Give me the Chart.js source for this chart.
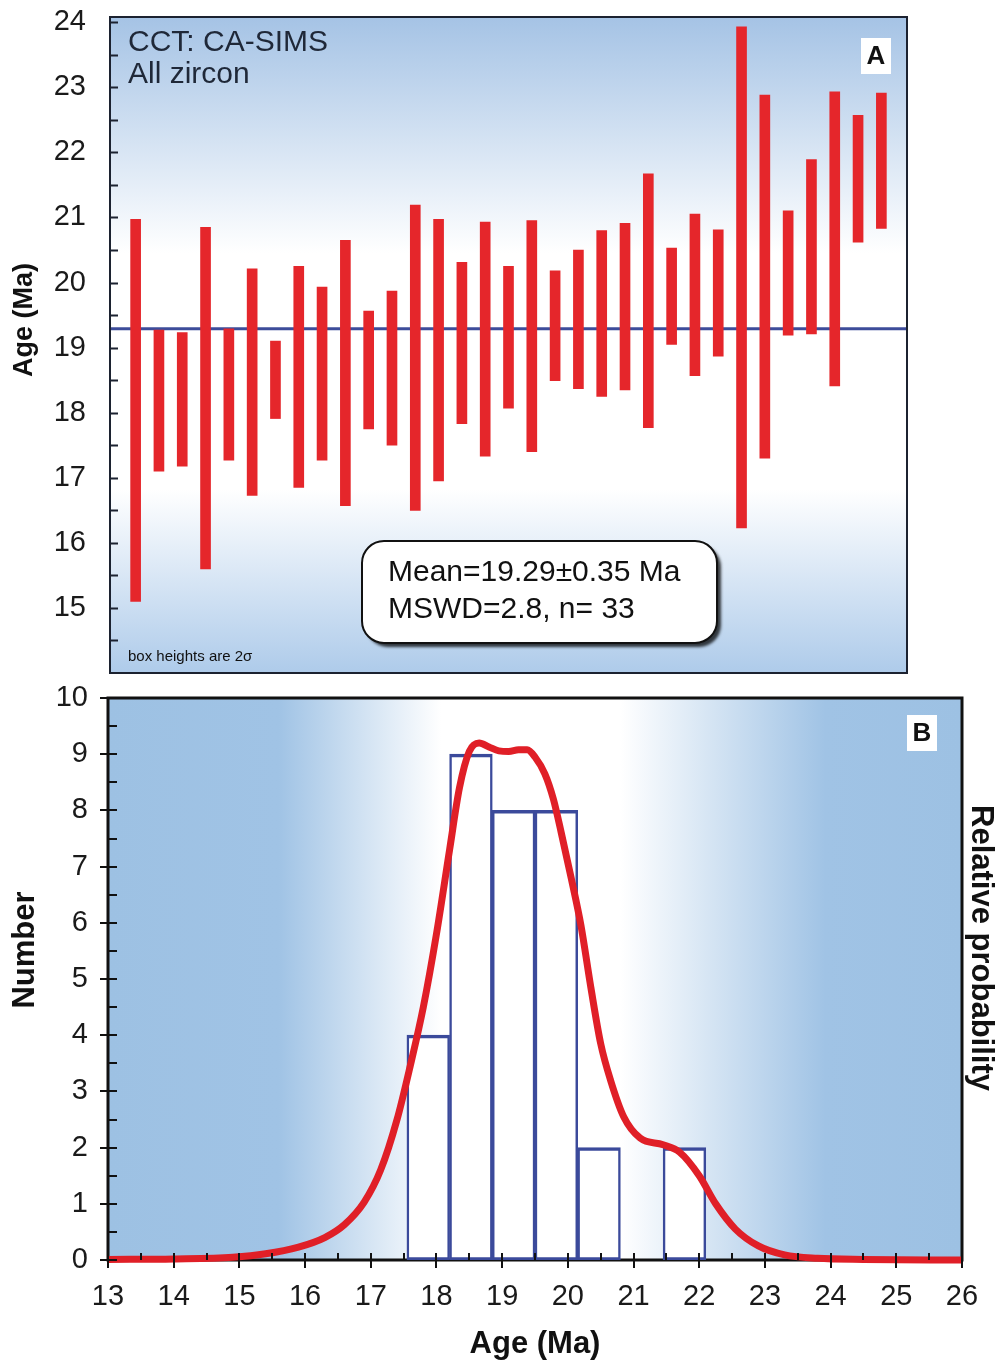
<!DOCTYPE html>
<html>
<head>
<meta charset="utf-8">
<script src="https://cdn.jsdelivr.net/npm/chart.js@4.4.1/dist/chart.umd.min.js"></script>
<style>
body { margin: 0; background: #fff; }
#wrap { position: relative; width: 1000px; height: 1365px; }
canvas { position: absolute; left: 0; }
#chartA { top: 0; }
#chartB { top: 680px; }
</style>
</head>
<body>
<div id="wrap">
<canvas id="chartA" width="1000" height="680"></canvas>
<canvas id="chartB" width="1000" height="685"></canvas>
</div>
<script>
// panel A - spot ages, box = 2 sigma
const spotNo = [1, 2, 3, 4, 5, 6, 7, 8, 9, 10, 11, 12, 13, 14, 15, 16, 17,
	18, 19, 20, 21, 22, 23, 24, 25, 26, 27, 28, 29, 30, 31, 32, 33];
const ageLow = [15.10, 17.10, 17.18, 15.60, 17.27, 16.73, 17.91, 16.85, 17.27, 16.57, 17.75,
	17.50, 16.50, 16.95, 17.83, 17.33, 18.07, 17.40, 18.49, 18.37, 18.25, 18.35,
	17.77, 19.05, 18.57, 18.87, 16.23, 17.30, 19.19, 19.21, 18.41, 20.62, 20.83];
const ageHigh = [20.97, 19.27, 19.23, 20.85, 19.29, 20.21, 19.10, 20.25, 19.93, 20.65, 19.56,
	19.87, 21.19, 20.97, 20.31, 20.93, 20.25, 20.95, 20.18, 20.50, 20.80, 20.91,
	21.67, 20.53, 21.05, 20.81, 23.93, 22.88, 21.10, 21.89, 22.93, 22.57, 22.91];
const meanAge = 19.29;
const ageTicksA = [15, 16, 17, 18, 19, 20, 21, 22, 23, 24];

// panel B - histogram + relative probability
const binStart = [17.55, 18.20, 18.85, 19.50, 20.15, 20.80, 21.45];
const binCount = [4, 9, 8, 8, 2, 0, 2];
const binWidth = 0.65;
const probAge = [13, 14, 14.9, 15.4, 15.9, 16.3, 16.6, 16.9, 17.15, 17.4, 17.6, 17.8, 18.0,
	18.2, 18.35, 18.5, 18.65, 18.8, 18.95, 19.1, 19.25, 19.38, 19.5, 19.65, 19.78, 19.9,
	20.05, 20.2, 20.35, 20.5, 20.65, 20.85, 21.1, 21.45, 21.7, 22.0, 22.25, 22.55, 22.9,
	23.3, 23.8, 24.5, 26];
const probValue = [0.01, 0.02, 0.05, 0.11, 0.23, 0.4, 0.63, 1.03, 1.6, 2.5, 3.45, 4.5, 5.8,
	7.3, 8.4, 9.05, 9.2, 9.13, 9.06, 9.05, 9.08, 9.08, 8.95, 8.65, 8.2, 7.6,
	6.8, 5.95, 4.85, 3.85, 3.2, 2.55, 2.17, 2.05, 1.92, 1.5, 1.0, 0.55, 0.25,
	0.09, 0.03, 0.01, 0];

const SANS = "'Liberation Sans', Arial, sans-serif";
const NARROW = "'Liberation Sans Narrow', 'Arial Narrow', 'Liberation Sans', sans-serif";

function rotText(ctx, text, x, y, ang, font) {
	ctx.save();
	ctx.translate(x, y);
	ctx.rotate(ang);
	ctx.font = font;
	ctx.fillStyle = '#111';
	ctx.textAlign = 'center';
	ctx.textBaseline = 'middle';
	ctx.fillText(text, 0, 0);
	ctx.restore();
}

function letterBox(ctx, txt, cx, cy) {
	ctx.save();
	ctx.fillStyle = '#fff';
	ctx.fillRect(cx - 15, cy - 18, 30, 36);
	ctx.font = 'bold 26px ' + SANS;
	ctx.fillStyle = '#111';
	ctx.textAlign = 'center';
	ctx.textBaseline = 'middle';
	ctx.fillText(txt, cx, cy + 1);
	ctx.restore();
}

// no label overhang padding, chart area comes from layout.padding only
function noPad(s) {
	s.paddingTop = 0; s.paddingBottom = 0;
	s.paddingLeft = 0; s.paddingRight = 0;
}

// ---------- panel A ----------
const panelA = {
	id: 'panelA',
	beforeDraw(chart) {
		const { ctx, chartArea: a } = chart;
		const g = ctx.createLinearGradient(0, a.top, 0, a.bottom);
		g.addColorStop(0, '#a5c3e5');
		g.addColorStop(0.36, '#ffffff');
		g.addColorStop(0.72, '#ffffff');
		g.addColorStop(1, '#aecbea');
		ctx.save();
		ctx.fillStyle = g;
		ctx.fillRect(a.left, a.top, a.right - a.left, a.bottom - a.top);
		ctx.restore();
	},
	afterDraw(chart) {
		const { ctx, chartArea: a } = chart;
		const y = chart.scales.y;
		ctx.save();
		ctx.strokeStyle = '#1c2230';
		ctx.lineWidth = 2;
		ctx.strokeRect(a.left, a.top, a.right - a.left, a.bottom - a.top);
		ctx.beginPath();
		for (let v = 14.5; v <= 24; v += 0.5) {
			const py = Math.round(y.getPixelForValue(v)) + 0.5;
			ctx.moveTo(a.left, py);
			ctx.lineTo(a.left + 8, py);
		}
		ctx.stroke();

		ctx.fillStyle = '#1f2838';
		ctx.font = '30px ' + SANS;
		ctx.textBaseline = 'middle';
		ctx.fillText('CCT: CA-SIMS', a.left + 18, 43);
		ctx.fillText('All zircon', a.left + 18, 75);
		ctx.font = '15px ' + SANS;
		ctx.fillStyle = '#111';
		ctx.fillText('box heights are 2\u03C3', a.left + 18, 657);

		// stats box
		ctx.save();
		ctx.shadowColor = 'rgba(0,0,0,0.75)';
		ctx.shadowOffsetX = 4;
		ctx.shadowOffsetY = 4;
		ctx.shadowBlur = 3;
		ctx.beginPath();
		ctx.roundRect(362, 541, 355, 102, 22);
		ctx.fillStyle = '#fff';
		ctx.fill();
		ctx.restore();
		ctx.beginPath();
		ctx.roundRect(362, 541, 355, 102, 22);
		ctx.lineWidth = 2;
		ctx.strokeStyle = '#111';
		ctx.stroke();
		ctx.fillStyle = '#111';
		ctx.font = '30px ' + SANS;
		ctx.fillText('Mean=19.29\u00B10.35 Ma', 388, 573);
		ctx.fillText('MSWD=2.8, n= 33', 388, 610);
		ctx.restore();

		letterBox(ctx, 'A', 876, 56);
		rotText(ctx, 'Age (Ma)', 25, 320, -Math.PI / 2, 'bold 27px ' + SANS);
	}
};

new Chart(document.getElementById('chartA'), {
	type: 'bar',
	data: {
		datasets: [{
			type: 'line',
			data: [{ x: -0.1, y: meanAge }, { x: 34.1, y: meanAge }],
			borderColor: '#3d4c9a',
			borderWidth: 3,
			pointRadius: 0,
			order: 2
		}, {
			type: 'bar',
			data: spotNo.map((n, i) => ({ x: n, y: [ageLow[i], ageHigh[i]] })),
			backgroundColor: '#e5262b',
			borderWidth: 0,
			barThickness: 10,
			order: 1
		}]
	},
	options: {
		responsive: false,
		animation: false,
		layout: { padding: { top: 17, right: 93, bottom: 7, left: 0 } },
		plugins: { legend: { display: false }, tooltip: { enabled: false } },
		scales: {
			x: { type: 'linear', min: -0.1, max: 34.1, offset: false, display: false },
			y: {
				min: 14, max: 24.08,
				afterBuildTicks: s => { s.ticks = ageTicksA.map(v => ({ value: v })); },
				afterFit: s => { s.width = 110; noPad(s); },
				grid: { display: false, drawTicks: false },
				border: { display: false },
				ticks: { padding: 24, color: '#1a1a1a', font: { family: SANS, size: 29 } }
			}
		}
	},
	plugins: [panelA]
});

// ---------- panel B ----------
const panelB = {
	id: 'panelB',
	beforeDraw(chart) {
		const { ctx, chartArea: a } = chart;
		const w = a.right - a.left;
		const g = ctx.createLinearGradient(a.left, 0, a.right, 0);
		g.addColorStop(0, '#9dc1e3');
		g.addColorStop(0.2, '#a0c3e5');
		g.addColorStop(0.39, '#ffffff');
		g.addColorStop(0.6, '#ffffff');
		g.addColorStop(0.84, '#a0c3e5');
		g.addColorStop(1, '#9dc1e3');
		ctx.save();
		ctx.fillStyle = g;
		ctx.fillRect(a.left, a.top, w, a.bottom - a.top);
		ctx.strokeStyle = '#111';
		ctx.lineWidth = 3;
		ctx.strokeRect(a.left, a.top, w, a.bottom - a.top);
		ctx.restore();
	},
	afterDraw(chart) {
		const { ctx, chartArea: a } = chart;
		const x = chart.scales.x, y = chart.scales.y;
		ctx.save();
		ctx.strokeStyle = '#111';
		ctx.lineWidth = 2;
		ctx.beginPath();
		for (let v = 0; v <= 10; v += 0.5) {
			const py = Math.round(y.getPixelForValue(v));
			const major = v % 1 === 0;
			ctx.moveTo(a.left - (major ? 8 : 0), py);
			ctx.lineTo(a.left + 9, py);
		}
		for (let v = 13; v <= 26; v += 0.5) {
			const px = Math.round(x.getPixelForValue(v));
			const major = v % 1 === 0;
			ctx.moveTo(px, a.bottom - 7);
			ctx.lineTo(px, a.bottom + (major ? 8 : 0));
		}
		ctx.stroke();
		ctx.restore();

		letterBox(ctx, 'B', 922, 733 - 680);
		rotText(ctx, 'Number', 25, 950 - 680, -Math.PI / 2, 'bold 31px ' + SANS);
		rotText(ctx, 'Relative probability', 981, 948 - 680, Math.PI / 2, 'bold 31px ' + SANS);
	}
};

const bins = [];
binStart.forEach((s, i) => {
	if (binCount[i] > 0) bins.push({ x: s + binWidth / 2, y: binCount[i] });
});

new Chart(document.getElementById('chartB'), {
	type: 'bar',
	data: {
		datasets: [{
			type: 'line',
			data: probAge.map((a, i) => ({ x: a, y: probValue[i] })),
			borderColor: '#e01f27',
			borderWidth: 7,
			pointRadius: 0,
			cubicInterpolationMode: 'monotone',
			clip: 10,
			order: 1
		}, {
			type: 'bar',
			data: bins,
			backgroundColor: '#ffffff',
			borderColor: '#3b4a9b',
			borderWidth: { top: 3.5, bottom: 3, left: 2.5, right: 2.5 },
			borderSkipped: false,
			barPercentage: 1,
			categoryPercentage: 1,
			order: 2
		}]
	},
	options: {
		responsive: false,
		animation: false,
		layout: { padding: { top: 18, right: 38, bottom: 0, left: 0 } },
		plugins: { legend: { display: false }, tooltip: { enabled: false } },
		scales: {
			x: {
				type: 'linear', min: 13, max: 26, offset: false,
				afterFit: s => { s.height = 105; noPad(s); },
				grid: { display: false, drawTicks: false },
				border: { display: false },
				ticks: { stepSize: 1, padding: 20, color: '#1a1a1a', font: { family: NARROW, size: 29 } },
				title: { display: true, text: 'Age (Ma)', color: '#111', font: { family: SANS, size: 31, weight: 'bold' }, padding: { top: 0, bottom: 2 } }
			},
			y: {
				min: 0, max: 10,
				afterFit: s => { s.width = 108; noPad(s); },
				grid: { display: false, drawTicks: false },
				border: { display: false },
				ticks: { stepSize: 1, padding: 20, color: '#1a1a1a', font: { family: NARROW, size: 29 } }
			}
		}
	},
	plugins: [panelB]
});
</script>
</body>
</html>
